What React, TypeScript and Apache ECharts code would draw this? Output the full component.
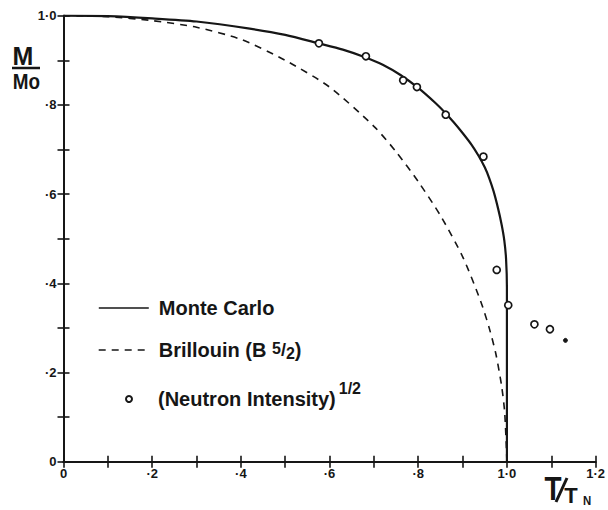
import React, { useEffect, useRef } from "react";
import * as echarts from "echarts";

// Monte Carlo curve (solid)
const monteT = [0, 0.1, 0.2, 0.3, 0.42, 0.5, 0.576, 0.63, 0.68, 0.72, 0.76, 0.8, 0.84, 0.86, 0.88, 0.9, 0.92, 0.936, 0.95, 0.96, 0.97, 0.98, 0.988, 0.994, 0.998, 1.0, 1.0];
const monteM = [1.0, 0.999, 0.994, 0.987, 0.971, 0.957, 0.938, 0.924, 0.907, 0.89, 0.867, 0.838, 0.803, 0.783, 0.761, 0.737, 0.711, 0.686, 0.66, 0.636, 0.606, 0.568, 0.532, 0.497, 0.456, 0.39, 0];

// Brillouin B5/2 curve (dashed)
const brillT = [0, 0.1, 0.2, 0.3, 0.4, 0.5, 0.6, 0.7, 0.75, 0.8, 0.85, 0.9, 0.94, 0.96, 0.975, 0.988, 0.995, 1.0];
const brillM = [1.0, 0.998, 0.989, 0.974, 0.947, 0.9, 0.84, 0.752, 0.695, 0.628, 0.552, 0.46, 0.362, 0.3, 0.242, 0.17, 0.11, 0];

// (Neutron Intensity)^1/2 points
const neutronT = [0.576, 0.682, 0.766, 0.797, 0.862, 0.947, 0.977, 1.003, 1.062, 1.097, 1.132];
const neutronM = [0.938, 0.909, 0.855, 0.84, 0.778, 0.684, 0.43, 0.351, 0.308, 0.297, 0.272];
const neutronFilled = [false, false, false, false, false, false, false, false, false, false, true];

const xTickLabels = ["0", "·2", "·4", "·6", "·8", "1·0", "1·2"];
const yTickLabels = ["0", "·2", "·4", "·6", "·8", "1·0"];

const seriesNames = ["Monte Carlo", "Brillouin (B 5/2)", "(Neutron Intensity)1/2"];

const INK = "#161616";
const SANS = "'Liberation Sans', Arial, sans-serif";

export default function App() {
  const ref = useRef<HTMLDivElement>(null);

  useEffect(() => {
    if (!ref.current) return;
    const chart = echarts.init(ref.current, null, { renderer: "svg" });

    const tickFmt = (labels: string[]) => (v: number) => {
      const k = Math.round(v * 10);
      return k % 2 === 0 ? labels[k / 2] ?? "" : "";
    };

    const axisCommon = {
      type: "value" as const,
      interval: 0.1,
      axisLine: { show: true, lineStyle: { color: INK, width: 2 } },
      axisTick: { show: true, inside: true, length: 6, lineStyle: { color: INK, width: 1.6 } },
      splitLine: { show: false },
    };

    const legendText = {
      fontFamily: SANS,
      fontWeight: "bold" as const,
      fontSize: 20,
      color: INK,
    };

    const glyph = (text: string, x: number, y: number, size: number, sx = 1) => ({
      type: "text",
      x,
      y,
      scaleX: sx,
      style: {
        text,
        font: `bold ${size}px ${SANS}`,
        fill: INK,
        textAlign: "center",
        textVerticalAlign: "middle",
      },
    });

    chart.setOption({
      animation: false,
      backgroundColor: "#ffffff",
      grid: { left: 63.5, right: 10.3, top: 15.7, bottom: 48.3, containLabel: false },
      xAxis: [
        {
          ...axisCommon,
          min: 0,
          max: 1.2,
          position: "bottom",
          axisLabel: {
            formatter: tickFmt(xTickLabels),
            color: INK,
            fontFamily: SANS,
            fontWeight: "bold",
            fontSize: 13,
            margin: 5,
            showMaxLabel: true,
            showMinLabel: true,
          },
        },
        {
          ...axisCommon,
          min: 0,
          max: 1.2,
          position: "top",
          axisLabel: { show: false },
        },
      ],
      yAxis: [
        {
          ...axisCommon,
          min: 0,
          max: 1.0,
          position: "left",
          axisLabel: {
            formatter: tickFmt(yTickLabels),
            color: INK,
            fontFamily: SANS,
            fontWeight: "bold",
            fontSize: 13,
            margin: 7,
            showMaxLabel: true,
            showMinLabel: true,
          },
        },
        {
          ...axisCommon,
          min: 0,
          max: 1.0,
          position: "right",
          axisLabel: { show: false },
        },
      ],
      legend: [
        {
          data: [seriesNames[0]],
          left: 93,
          top: 293,
          itemWidth: 50,
          itemHeight: 14,
          selectedMode: false,
          itemStyle: { opacity: 0 },
          lineStyle: { width: 1.6 },
          textStyle: { ...legendText, padding: [0, 0, 0, 5] },
        },
        {
          data: [seriesNames[1]],
          left: 93,
          top: 335,
          itemWidth: 50,
          itemHeight: 14,
          selectedMode: false,
          itemStyle: { opacity: 0 },
          lineStyle: { width: 1.4 },
          formatter: () => "{n|Brillouin (B }{a|5}{s|/}{b|2}{n|)}",
          textStyle: {
            ...legendText,
            padding: [0, 0, 0, 5],
            rich: {
              n: { ...legendText, lineHeight: 24 },
              a: { ...legendText, fontSize: 16, lineHeight: 24, padding: [0, 0, 4, 0] },
              s: { ...legendText, fontSize: 18, lineHeight: 24 },
              b: { ...legendText, fontSize: 16, lineHeight: 24, padding: [0, 0, -6, 0] },
            },
          },
        },
        {
          data: [seriesNames[2]],
          left: 120,
          top: 375,
          itemWidth: 6,
          itemHeight: 6,
          selectedMode: false,
          formatter: () => "{n|(Neutron Intensity)}{p|1/2}",
          textStyle: {
            ...legendText,
            padding: [0, 0, 0, 21],
            rich: {
              n: { ...legendText, lineHeight: 24 },
              p: { ...legendText, fontSize: 16, lineHeight: 24, padding: [0, 0, 22, 3] },
            },
          },
        },
      ],
      series: [
        {
          name: seriesNames[0],
          type: "line",
          symbol: "none",
          smooth: 0.25,
          lineStyle: { color: INK, width: 2.2 },
          itemStyle: { color: INK },
          data: monteT.map((t, i) => [t, monteM[i]]),
          z: 3,
        },
        {
          name: seriesNames[1],
          type: "line",
          symbol: "none",
          smooth: 0.25,
          lineStyle: { color: INK, width: 1.6, type: [7, 6] },
          itemStyle: { color: INK },
          data: brillT.map((t, i) => [t, brillM[i]]),
          z: 2,
        },
        {
          name: seriesNames[2],
          type: "scatter",
          symbol: "circle",
          symbolSize: 7,
          itemStyle: { color: "#ffffff", borderColor: INK, borderWidth: 1.7, opacity: 1 },
          data: neutronT.map((t, i) =>
            neutronFilled[i]
              ? { value: [t, neutronM[i]], symbolSize: 4, itemStyle: { color: INK, borderColor: INK, borderWidth: 1, opacity: 1 } }
              : { value: [t, neutronM[i]] }
          ),
          z: 4,
        },
      ],
      graphic: [
        glyph("M", 23, 56, 25, 1),
        {
          type: "line",
          shape: { x1: 12, y1: 68, x2: 40, y2: 68 },
          style: { stroke: INK, lineWidth: 2.5 },
        },
        glyph("Mo", 26.5, 81, 22, 0.86),
        glyph("T", 553, 489, 34, 0.82),
        {
          type: "line",
          shape: { x1: 556, y1: 502, x2: 567, y2: 478 },
          style: { stroke: INK, lineWidth: 3 },
        },
        glyph("T", 571, 495, 22, 1),
        glyph("N", 587, 500, 12, 0.95),
      ],
    });

    return () => chart.dispose();
  }, []);

  return (
    <div
      ref={ref}
      style={{ position: "fixed", left: 0, top: 0, width: 608, height: 510, background: "#fff" }}
    />
  );
}
